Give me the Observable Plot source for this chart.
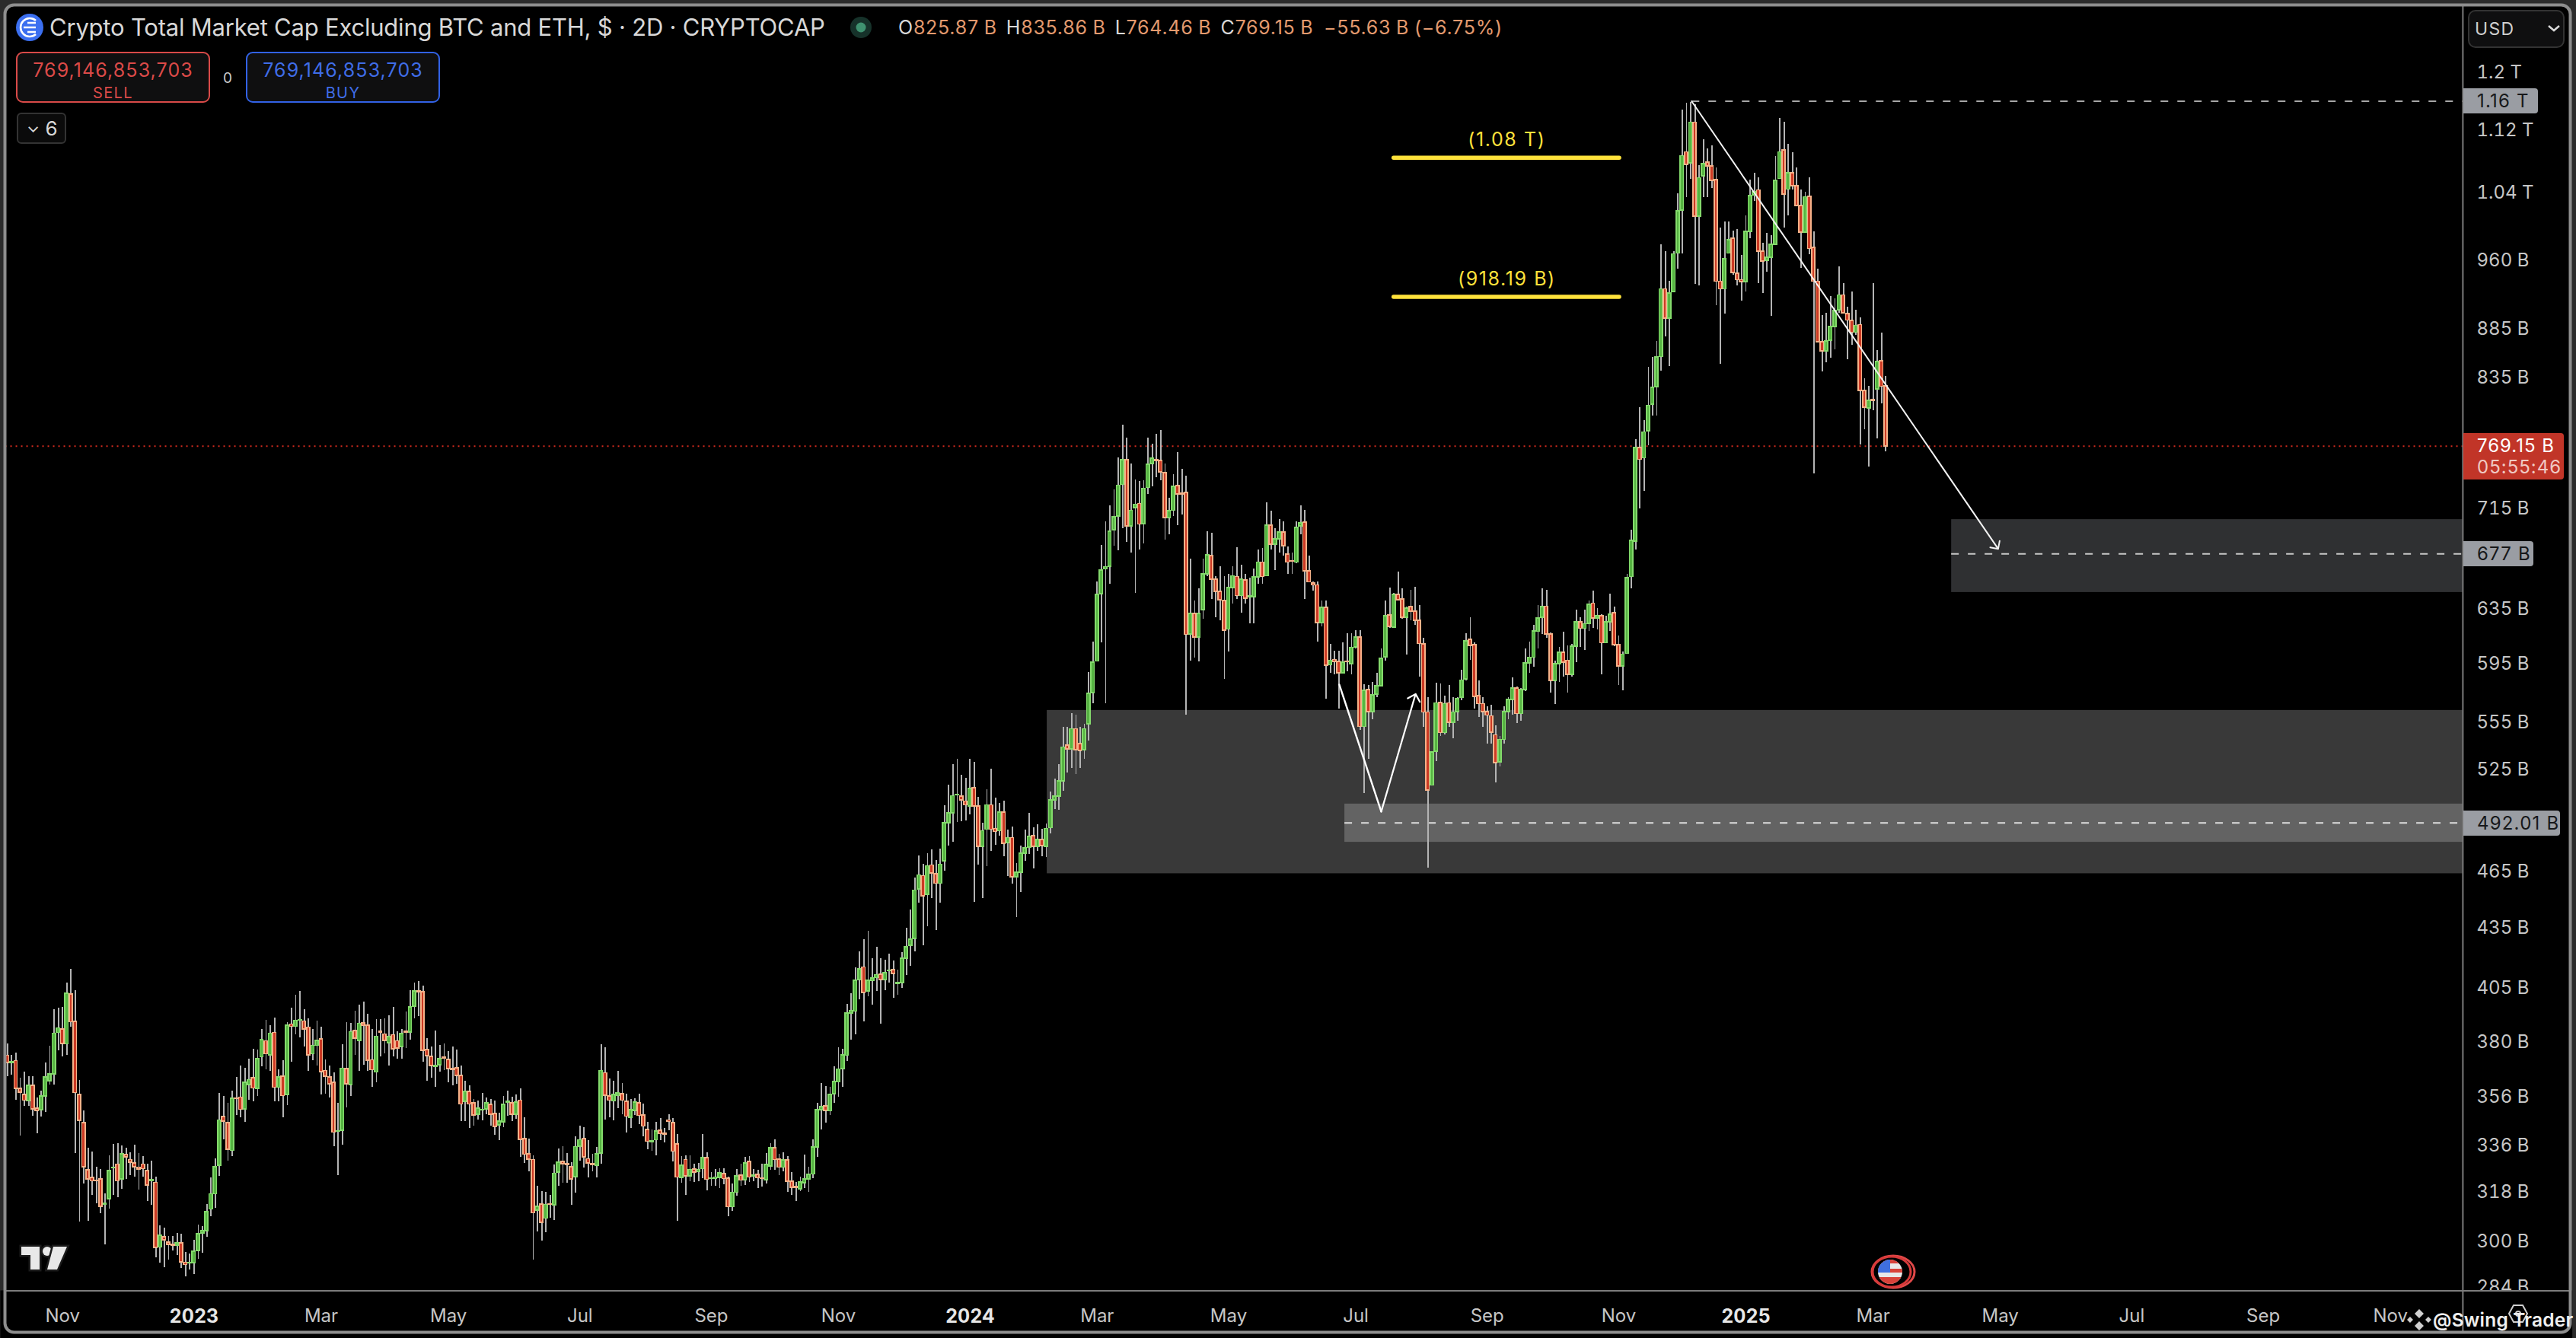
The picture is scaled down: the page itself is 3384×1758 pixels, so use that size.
<!DOCTYPE html>
<html><head><meta charset="utf-8">
<style>
html,body{margin:0;padding:0;background:#2b2b2b;width:3384px;height:1758px;overflow:hidden}
#wrap{position:absolute;left:0;top:0;width:3384px;height:1758px;font-family:Inter,"Liberation Sans",sans-serif}
.o{position:absolute;white-space:nowrap;line-height:1}
.box{position:absolute;box-sizing:border-box;border-radius:9px;background:#0f0f10;text-align:center}
.tag{position:absolute;left:3236px;box-sizing:border-box;border-radius:0 4px 4px 0;background:#9a9da3;color:#17181a;font-size:24px;height:33px;line-height:33px;padding-left:18px;letter-spacing:1.2px}
</style>
<script src="https://cdn.jsdelivr.net/npm/d3@7"></script>
<script src="https://cdn.jsdelivr.net/npm/@observablehq/plot@0.6"></script>
</head><body><div id="wrap"></div>
<script>
const opens=[373.4,370.2,371,358.9,356.3,353.8,360.2,350.6,350.1,355.7,
362.2,365.2,383.6,385.1,378.5,401.6,388.7,356.4,344.6,325.9,
323,321.9,322.4,312.8,314.9,326.7,328.2,322.5,331.9,329.9,
328.6,327,328.2,325.6,321.9,321.1,297.4,301.1,299.2,298.4,
298.1,298.9,292.1,292,292,296.2,302.4,303.2,311.1,316.8,
327.8,347.2,344.7,333.5,355,355.3,350.4,360.7,363.5,358.9,
372.7,379.8,373.6,383.6,359.5,364.2,356.5,387.4,386.4,389.2,
388.8,386,374,377.8,380.6,366.7,363.8,361.5,341.1,341.7,
367.5,360.6,384.6,380,388,386.8,371.4,366,384.1,382.9,
378.9,382.6,379.8,377.3,384.1,383.8,395.7,402.9,402.5,375.8,
372.9,368.6,369.2,372.6,371.5,367.5,367.8,364.5,353.6,357.8,
352.9,348.1,350,350.3,352.3,348.5,343.8,345.1,353.3,352.9,
348.1,354,338.3,332.2,329.9,310.7,313,307.8,313,312.6,
325,329.2,328.4,327.2,323.3,335.2,338.3,330.2,328.4,327.7,
332.4,365.7,355.7,353.7,356.1,356.8,353.5,346.9,349.7,352.8,
347.8,341.9,336.9,337.8,341.6,340.4,345.8,344.8,336.1,323,
329.9,323.5,326.2,325.2,326.4,330.7,322.6,322.6,323,324.5,
322.8,312,317.4,323.8,322.1,329.3,323.7,324.2,322.9,322.1,
327.4,334.6,330.1,327,329.8,321.5,319.5,318.6,321,322.4,
324.3,334.9,350.1,351.7,349.6,356.7,361.8,367.6,373.4,392.5,
393.4,408.5,414.6,403,408.2,409.4,411,408.5,412.9,413.3,
406.7,406.9,419,425.3,428.8,454.7,462,451.8,467.9,463,
457.9,470.2,491.8,497.6,508.4,507.8,504.8,501.8,512.9,501.7,
478.2,488.2,502.5,488.6,487.3,498.1,480.4,483.4,461.3,463.8,
474.4,477.8,484.3,478.2,482.1,478.2,489,505.3,507.8,517,
539.3,537,550,540.3,536.5,553,574,596,645.3,664.7,
667,696.4,707.6,734.7,756.8,699.6,715,718.3,701.4,732,
753,757,756,745.3,706.4,712.6,733.8,727,727.9,615.5,
630.7,613.3,633.3,661,675.4,656.5,647.1,640.2,618.9,650,
658.8,644,656,643,643,658.3,670.2,659.3,700,684.4,
689,694.6,676.6,671,670.2,699.3,702.5,663,653.6,652.3,
623.7,635,593.2,597,595.6,587.6,595.6,594,606,613.3,
551.4,576,561.3,573,578.8,598.8,629.2,620.5,644.8,641.4,
627.7,635.6,632.2,625.5,608.3,560.9,514.4,535.5,567.4,547.4,
567,554,561.3,571,583.4,611.6,607.6,571.8,566.6,561.3,
558.5,546,528.7,543,561.3,569.4,577,560,576,594.4,
598.6,617.2,627.7,636,615.5,582.3,594,602,596.4,586.5,
606.7,624.4,619.5,623.3,638.3,627,628.8,609,624.4,631,
607.6,592.4,601.4,658.8,687,767.8,758.4,783,808,825,
855,926.5,895,923.5,966.7,1017,1090,1076,1129,1010,
1059.7,1076.5,1072,1054.7,935,926.5,966.7,983.8,944,936.7,
934.5,992,1036,1042,969,958.6,962,977,1056,1092.6,
1043,1063.5,1047.3,1022.7,991,1034,973,935,870,860.7,
872,886,903.7,920,899.8,892.6,880,888,821.5,804.3,
813,823,851,825.87];
const closes=[370.1,370.4,358.9,357.3,354,360.2,350.4,349.8,355.7,363.8,
365.2,383.3,385.7,378.7,401.9,388.5,357.2,345.7,327.2,322.5,
321.7,321.7,312.1,313.3,325.7,327,321.7,332.2,331,329,
327.2,326.3,326.4,320.2,322.2,297.2,301.6,300,298.3,298.1,
298.9,292.2,291.3,292.1,296,302.2,303.3,310.2,316.8,327.2,
345.8,345.4,333.9,354.8,354.8,350.2,361.5,362.7,359.2,371.8,
380.4,374,383.3,359.5,363.8,355.9,387,386.4,389.2,389.5,
385.2,373.5,377.8,379.9,366.3,364.2,360.9,340.8,341.3,367.7,
360.9,384,381,387.8,386.9,371.2,367,381.9,383.7,380,
381.6,376.3,376.6,383,383.7,395.5,402.9,402.5,375.5,373.2,
368.8,368.8,371.9,372.2,367.6,367,364.5,352.4,357.8,352.4,
347.9,350.7,350.1,352.9,348.1,343.2,345.4,352.3,353.5,348.2,
353.3,338,332,330.1,309.7,312.2,306.3,312.8,312.8,324.6,
329,328.4,328,322.5,335,337.8,331,328.7,328,332.2,
366.7,356.1,354,356.4,357,354,347.4,350,353.2,347.7,
343.3,337.2,337.4,341.4,340.2,340,345.2,333.2,323.2,327.7,
323.6,326.1,325,326.1,330.6,322.3,322.8,323.2,324.8,322.6,
312,317.4,323.6,322,328.7,323.2,323.9,322.9,322.6,328,
334.6,329.9,327,329.8,321.5,319.2,319.2,321.2,322.4,324.1,
334.9,350,351.4,349.7,356.5,361.9,367.4,373.5,392.5,393.7,
408.2,413.6,402.2,408,409.1,410.9,408.5,411.8,413.1,411.3,
406.9,419,424.7,428.4,454.2,462.4,451.2,467.5,463.4,457.9,
468.3,491.8,497.6,507.9,508.5,505.3,502.5,512.4,501.7,478.2,
487.3,502.5,488.2,486.9,498.1,480,483.4,461.3,464,474.4,
477.4,483.9,478.2,482.1,478.7,488.6,505.3,507.8,516.8,538.2,
537,550,536.5,535.9,550,573.5,595,644.8,664,666.5,
695.1,707,734,756.8,699.6,712.6,717.8,701,731.4,752.6,
758,756,745.8,706.4,712,733.3,726.7,726.7,615,630.7,
613.3,630.7,661,676,656.5,647.1,640.7,618.2,650,659.3,
644,656.5,642,644,658.3,670.2,658.8,700,684.4,689,
694.6,683.4,670.2,670.8,698.3,702,663,654.5,652.3,623.7,
635,592.8,596.4,595.6,587.6,595,595.4,605.7,613.3,551.4,
575.5,561.3,572.5,578.6,598,628.8,621,644.8,640.7,627.7,
634.5,632.4,625.5,608.5,560.9,511.5,535,567,547.4,566.6,
554,560.9,570,582.7,610.2,607,571.4,566.6,561.3,559,
547.6,528.2,543,561.3,569.4,577,560,576,594.4,598.6,
617.7,627,635.6,615.5,582.3,594,602,595,586.5,606.7,
624.4,619.5,622.8,637.4,627,628.8,609,624.4,630,607.6,
592.4,600.8,658,687.6,767.8,757,782,807,824.6,854.4,
926.5,895,922,965.8,1016.7,1085,1074,1129,1010,1057,
1075,1072,1053.6,935,926.5,960,982,945,936.7,934.5,
992,1035,1040,969,957.7,962,977,1053.6,1090,1037,
1063,1047.3,1022.7,991,1033.5,972,935,870,860.7,871,
886,903,920,900.7,893,880,887.4,821.5,805.4,812,
812,850,825.4,769.15];
const highs=[378.8,373.4,374.6,363.5,366.3,364.3,364.3,355.1,358.1,370.3,
377.7,394.3,395.1,395.5,407,413.6,403.2,362.6,349.6,334.5,
333,327,326.2,316.9,331.5,336,336.5,335.6,334.5,332.7,
335.7,332.4,331.2,328.4,329.4,323.3,305.1,304.4,301.3,301.3,
302.4,302.1,295.7,295.1,300,305.3,305,313,323.1,330.4,
357.2,355.9,352.8,357.9,364,369,367.9,372,376.3,375.9,
385.2,389.5,386.9,390.4,367.3,371.2,388.3,394.9,401,402.8,
394.3,390,385.2,389,386.3,371.5,369,365.8,353,378.2,
388.4,388,393.6,396.5,398,392.2,385.2,389.8,389.8,390,
391.5,395.3,384.2,385.2,393.1,403.3,406.9,407.8,405.5,381.2,
377.3,384.6,377.8,378.8,375.1,377.3,375.8,369,362.1,360.3,
354.6,354,356.9,355.1,354.6,354,348.7,355.9,357.9,355.3,
356.4,358.9,346.9,338.1,331.5,319.9,317.8,317.5,316.3,328,
334.2,335.1,332.4,329,339,343.5,342.7,337.7,332.1,334.8,
378.4,377,363.2,362.3,366.4,361.3,356.8,354.5,354.8,356.6,
352.6,344.9,342,345.1,346.7,342.4,348.2,346.7,340,331.3,
331.6,331.6,328.4,328.7,340.2,332.9,325.1,326.3,326.6,326.6,
323.4,320.8,326.3,328.4,331,331.3,326.3,326,328.4,332.5,
336.5,338,332.2,332.9,331.3,325.2,321.3,323.4,331.9,327.2,
338,353,361.2,360.1,359.5,368.6,377,376.2,397,402,
414.5,422.4,428.6,432.6,418.9,424.8,418.9,418.3,421,417.9,
413.1,421.9,434.5,443.8,460.8,473.2,468.6,474.5,476.7,470.7,
477.1,502.2,514.6,527.3,530.8,520.7,518.8,530.8,528.7,507.2,
491.9,511.8,524.5,506.8,503.7,505,488,489.8,469,478.8,
488,497.6,489.3,491,488.4,491.5,510.4,518.4,527.3,551,
551,560,559,551,553,588,610,655,684,703,
717,730.7,758.6,788.6,777,753,739,738,738.7,776.6,
771,780,783.6,753,723,744,763.6,748.5,742.7,673,
640.2,649.4,673,695,694,658.8,667,658.8,661,667,
682,668,661,657.6,664.7,680,681.5,719.6,712,697.6,
705,703,682.7,678,703,717,712.7,675,655,655,
640.2,640.2,607.9,603.5,603.5,609,616,616,618,618,
580,579.3,581.3,587.6,604.6,640.2,650,646,662.4,649.4,
635.6,648.3,651,636.7,612.5,571,535.5,581,580.3,572,
579.3,571,571,589.7,616,627.4,609,582.4,571,565,
565.6,552,545,565,571,584.5,578,577,604.6,610,
622,636.7,649.4,648.3,616.6,596,605.7,617,607,608,
633.3,627.7,633.3,640.2,647.6,634.5,630,628.8,645.3,635.6,
614.4,602.5,661,696.3,775,805,793,845,855,871,
977,968.8,935,968.8,1037.4,1145.6,1155,1156.4,1153.8,1072.6,
1106.6,1094,1098.6,1070,996,1003.7,1003.7,993,994.3,964.4,
1010.9,1055,1063,1057.3,979,990.5,987.4,1085,1135,1130,
1100.6,1090,1070,1042.3,1040,1058,992,949,898.5,900.7,
919,916,951.7,933,907,923.6,903.7,896,833.2,825.7,
932.6,861.5,879.4,835.86];
const lows=[364.1,364.8,354.2,339.5,351.7,351.5,347.4,340.5,347.1,349.1,
360.7,360.7,375.5,372.7,373.4,386.2,332.5,306.6,320.7,306.7,
316.3,313.3,309.6,298.4,311.4,316.3,315.5,318.7,322.5,323.8,
323.3,318.4,323.3,314.1,312.8,293.7,292,290.3,293.1,296.2,
294.6,290.2,287.2,289.6,288,293.3,295.5,301.1,308.6,311.6,
323.5,337.8,329.5,331.4,347.7,346.9,344.9,354.2,353.5,355.7,
368.4,367.1,366.4,353.5,353.6,346.8,351.9,370.4,382.7,381.4,
377.1,366.4,371.3,369,356.3,356.7,355.1,335.2,323.8,335.7,
351.1,355.9,373.7,366.4,369.3,366.4,359.7,361.5,372.7,374.3,
369,372.7,371.8,372,376.5,380.4,390.2,391.2,370.4,362.2,
363.5,359.7,366.2,366.7,361.5,360.2,360.8,345.2,345.2,342.6,
343.4,345.9,345.6,348.3,343.4,339.7,337.6,342.8,347.6,345.2,
346.4,331,328.5,325.5,293,303,299.7,302.7,308,307.1,
319.8,320.9,320.9,312.7,317.3,329.4,326.7,323,325.3,323,
328.2,346.1,347,345.7,350.8,348.1,340.8,342.6,347.9,344.2,
339.3,334,333.4,331.7,337.7,336.8,341.7,329.3,306.9,321,
316.4,321.6,321.3,321.6,322.8,318.2,319.9,319.9,318.9,320.5,
308.6,310.5,316.2,319.9,320.2,321.3,321.6,319,319.5,320.7,
325.8,325.8,324,325.5,317.6,316.4,314.2,317.9,319.1,317.6,
322.8,331,342,344.7,347.9,352.9,355.3,359.8,370.7,380.3,
382.6,398.8,388.8,400.6,396.3,402.9,387.6,403.5,406.8,399.8,
401.2,404.3,410.5,415.2,422.5,447.3,425.5,434.9,450,433.3,
447.6,464.8,478.9,481.1,492.4,492.9,493.3,496.9,447.9,468.2,
449.8,467.3,475.7,479.1,484.5,472.8,461.9,457.6,440,453.3,
470.3,474.1,466,475.8,472.8,472.4,485.8,500,499.6,511,
522.2,525,521.2,525,530.7,542.2,566.6,595.6,609,567,
653,683.5,679.5,697.6,686.5,677.8,646,680,685,726.7,
733.3,741,738.7,688.4,692.6,708,700,709,559,596,
598.2,595.4,626.6,658.8,641.7,627.7,625.5,583.4,602.5,638,
641.7,631,638,623.3,623.3,653,653,658.8,680,664,
677.8,675.4,661,661,669.5,692.6,641.7,654,648,610,
621,570,587.6,586.5,563.4,588.7,588.7,586.5,604.6,549,
509.7,530.7,556,571,578.4,596,620,620,640.2,626.6,
600.4,625.5,622,585.2,551,466.5,514,529.4,545,546.2,
551,544,555,569,582.4,597,563,557.9,551,540.3,
540.3,516.2,526,540.3,556,559,553.5,555,575,587.6,
591.8,604.6,615.5,612.3,574,566.3,581.3,585.2,574,585.2,
595,605.7,603.6,617.7,620,618.9,586.5,609,617.7,606.5,
579.2,575.6,601.4,649.5,680.4,714,729,770,797,797,
841,876,845.7,924,948.7,966.7,1032.6,1055.7,932,930.6,
1032.6,1032.6,1044,909,848,900,966.7,941.9,930,913.6,
924,984,1028,933,922,946,897.6,976,1055.7,996.8,
1010.9,1042.3,1022.7,949.6,992,965.8,744.1,870,840.4,849,
854,862.4,900.7,900.7,852,866.8,877.6,770.7,784.5,750.5,
802.5,776.3,809.2,764.46];

const monthIdx=[13,74,104,135,166,196,257,288,318,349,380,440,470,501,532,562];
const monthLabels=["Nov","Mar","May","Jul","Sep","Nov","Mar","May","Jul","Sep","Nov","Mar","May","Jul","Sep","Nov"];
const yearIdx=[44,227,410];
const yearLabels=["2023","2024","2025"];
const priceTicks=[1200,1120,1040,960,885,835,715,635,595,555,525,465,435,405,380,356,336,318,300,284];
const axisEdge=579.1, floorPrice=282.5;

const lowerZone=[{i1:245.2,i2:axisEdge,top:562.3,bottom:463.3}];
const innerZone=[{i1:315.4,i2:axisEdge,top:503.2,bottom:480.9}];
const targetZone=[{i1:458.5,i2:axisEdge,top:705.1,bottom:646.7}];
const fibLines=[{i1:327,i2:380.2,v:1083,label:"(1.08 T)"},{i1:327,i2:380.2,v:918.19,label:"(918.19 B)"}];
const dashLines=[{i1:397.3,v:1158,stroke:"#a6a6a6"},{i1:458.5,v:677,stroke:"#c8c8c8"},{i1:315.4,v:492.01,stroke:"#dedede"}];
const lastPrice=769.15;
const fallArrow=[{i1:397.2,v1:1158,i2:469.5,v2:681}];
const dipPath=[{i:314.1,v:579.8},{i:324,v:498.7}];
const reboundArrow=[{i1:324,v1:498.7,i2:332.1,v2:573.3}];

const candles=opens.map((o,i)=>({i,o,c:closes[i],h:highs[i],l:lows[i],up:closes[i]>=o}));
const hw=0.38;
const fmt=v=>v>=1000?(v/1000)+" T":v+" B";
const bodyOpts=(fill,stroke)=>({x1:d=>d.i-hw,x2:d=>d.i+hw,y1:"o",y2:"c",fill,stroke,strokeWidth:1.7,shapeRendering:"crispEdges"});

const chart=Plot.plot({
  width:3384,height:1758,marginLeft:6,marginTop:6,marginRight:8,marginBottom:8,
  style:{background:"transparent",fontFamily:"Inter,'Liberation Sans',sans-serif"},
  x:{type:"linear",domain:[-1.675,605.87],range:[0,3384]},
  y:{type:"log",domain:[1305.1,267.0],range:[0,1758]},
  marks:[
    Plot.frame({fill:"#000",rx:12}),
    Plot.rect(lowerZone,{x1:"i1",x2:"i2",y1:"top",y2:"bottom",fill:"#393939"}),
    Plot.rect(innerZone,{x1:"i1",x2:"i2",y1:"top",y2:"bottom",fill:"#636363"}),
    Plot.rect(targetZone,{x1:"i1",x2:"i2",y1:"top",y2:"bottom",fill:"#2f3032"}),
    Plot.ruleY([lastPrice],{x1:-0.5,x2:axisEdge,stroke:"#d02a1e",strokeWidth:2,strokeDasharray:"2 5"}),
    Plot.ruleY(dashLines,{x1:"i1",x2:axisEdge,y:"v",stroke:"stroke",strokeWidth:2,strokeDasharray:"10 12"}),
    Plot.ruleX(candles,{x:"i",y1:"l",y2:"h",stroke:"#b4b4b4",strokeWidth:1.8,shapeRendering:"crispEdges"}),
    Plot.rect(candles.filter(d=>d.up),bodyOpts("#56b442","#84da6c")),
    Plot.rect(candles.filter(d=>!d.up),bodyOpts("#cc3a24","#f6b289")),
    Plot.line(dipPath,{x:"i",y:"v",stroke:"#fff",strokeWidth:2.4}),
    Plot.arrow(reboundArrow,{x1:"i1",y1:"v1",x2:"i2",y2:"v2",stroke:"#fff",strokeWidth:2.2,headAngle:90,headLength:8}),
    Plot.arrow(fallArrow,{x1:"i1",y1:"v1",x2:"i2",y2:"v2",stroke:"#f2f2f2",strokeWidth:2,headAngle:90,headLength:8}),
    Plot.ruleY(fibLines,{x1:"i1",x2:"i2",y:"v",stroke:"#ffe23b",strokeWidth:5.5,strokeLinecap:"round"}),
    Plot.text(fibLines,{x:d=>(d.i1+d.i2)/2,y:"v",text:"label",dy:-23,fill:"#ffe23b",fontSize:25,className:"fib"}),
    Plot.axisY(priceTicks,{anchor:"right",tickSize:0,tickPadding:0,dx:-123,dy:1.5,tickFormat:fmt,fontSize:24,fill:"#c6c6c6",label:null}),
    Plot.rect([{i1:-1.6,i2:605,top:floorPrice,bottom:267}],{x1:"i1",x2:"i2",y1:"top",y2:"bottom",fill:"#000"}),
    Plot.ruleY([floorPrice],{stroke:"#7c7c7c",strokeWidth:2}),
    Plot.ruleX([axisEdge],{stroke:"#7c7c7c",strokeWidth:2}),
    Plot.frame({stroke:"#8e8e8e",strokeWidth:4,rx:12}),
    Plot.axisX(monthIdx,{anchor:"bottom",tickSize:0,tickPadding:0,lineAnchor:"middle",dy:-21,fontSize:24,fill:"#c6c6c6",label:null,tickFormat:d=>monthLabels[monthIdx.indexOf(d)]}),
    Plot.axisX(yearIdx,{anchor:"bottom",tickSize:0,tickPadding:0,lineAnchor:"middle",dy:-21,fontSize:25,fontWeight:700,fill:"#e6e6e6",label:null,tickFormat:d=>yearLabels[yearIdx.indexOf(d)]})
  ]
});
d3.select(chart).selectAll(".fib text, text.fib").style("letter-spacing","1.6px");
const wrap=document.getElementById("wrap");
wrap.appendChild(chart);
const Y=v=>chart.scale("y").apply(v);
function add(html){wrap.insertAdjacentHTML("beforeend",html)}
// header
add(`<svg class="o" style="left:0;top:0" width="3384" height="1758" viewBox="0 0 3384 1758">
<circle cx="39" cy="36" r="18" fill="#3b6ff0"/>
<path d="M47 27a12 12 0 1 0 0 18M31 36h16M36 30h11M36 42h11" fill="none" stroke="#fff" stroke-width="2.6"/>
<circle cx="1131" cy="36" r="14" fill="#16322a"/><circle cx="1131" cy="36" r="6.5" fill="#3f9270"/>
<g fill="#e8e8e8" stroke="#1a1a1a" stroke-width="5" paint-order="stroke"><path d="M28 1638h24v30h-12v-19h-12z"/><circle cx="62" cy="1644" r="6"/><path d="M70 1638h18l-13 30h-13z"/></g>
<g fill="none"><ellipse cx="2487" cy="1671" rx="28" ry="21" stroke="#e04848" stroke-width="3"/><ellipse cx="2485" cy="1671" rx="25" ry="20" stroke="#d83a3a" stroke-width="3"/></g>
<clipPath id="fl"><ellipse cx="2483" cy="1671" rx="16" ry="16"/></clipPath>
<g clip-path="url(#fl)"><rect x="2465" y="1654" width="36" height="34" fill="#e8e8e8"/><rect x="2465" y="1654" width="36" height="6" fill="#d9423a"/><rect x="2465" y="1667" width="36" height="5" fill="#d9423a"/><rect x="2465" y="1678" width="36" height="10" fill="#d9423a"/><rect x="2465" y="1654" width="18" height="18" fill="#3f6fe0"/></g>
<g fill="none" stroke="#cfcfcf" stroke-width="2"><path d="M3296 1726l6-11h12l6 11-6 11h-12z"/><circle cx="3308" cy="1726" r="3"/></g>
<path d="M3178 1720l6 6-6 6-6-6zM3166 1730l4 4-4 4-4-4zM3190 1730l4 4-4 4-4-4zM3178 1736l6 6-6 6-6-6z" fill="#cfcfcf"/>
</svg>`);
add(`<div class="o" style="left:65px;top:20px;font-size:31px;color:#d8d8d8;letter-spacing:-0.21px">Crypto Total Market Cap Excluding BTC and ETH, $ · 2D · CRYPTOCAP</div>`);
add(`<div class="o" style="left:1180px;top:24px;font-size:25px;color:#e39a6e;letter-spacing:.75px;word-spacing:-1px"><span style="color:#d8d8d8">O</span>825.87 B <span style="color:#d8d8d8">&thinsp;H</span>835.86 B <span style="color:#d8d8d8">&thinsp;L</span>764.46 B <span style="color:#d8d8d8">&thinsp;C</span>769.15 B &nbsp;−55.63 B (−6.75%)</div>`);
add(`<div class="box" style="left:21px;top:68px;width:255px;height:67px;border:2px solid #d94a48"><div style="color:#dc4a48;font-size:25px;margin-top:7px;letter-spacing:1.1px">769,146,853,703</div><div style="color:#dc4a48;font-size:20px;margin-top:3px;letter-spacing:1.4px">SELL</div></div>`);
add(`<div class="o" style="left:293px;top:93px;font-size:19px;color:#c9c9c9">0</div>`);
add(`<div class="box" style="left:323px;top:68px;width:255px;height:67px;border:2px solid #3262e6"><div style="color:#3f6de8;font-size:25px;margin-top:7px;letter-spacing:1.1px">769,146,853,703</div><div style="color:#3f6de8;font-size:20px;margin-top:3px;letter-spacing:1.4px">BUY</div></div>`);
add(`<div class="box" style="left:22px;top:148px;width:65px;height:41px;border:2px solid #333;border-radius:6px;color:#d8d8d8;font-size:26px;line-height:37px;text-align:left;padding-left:11px;background:#0b0b0b"><span style="font-size:22px;position:relative;top:-4px">⌄</span> 6</div>`);
add(`<div class="box" style="left:3242px;top:13px;width:127px;height:50px;border:2px solid #333;border-radius:10px;color:#cfcfcf;font-size:23px;line-height:46px;text-align:left;padding-left:7px;letter-spacing:1.3px">USD</div>`);
add(`<svg class="o" style="left:3345px;top:30px" width="20" height="16"><path d="M3 4l7 6 7-6" fill="none" stroke="#d8d8d8" stroke-width="2.5"/></svg>`);
// price tags
add(`<div class="tag" style="top:${Y(1158)-16}px;width:98px">1.16 T</div>`);
add(`<div class="tag" style="top:${Y(677)-16}px;width:92px">677 B</div>`);
add(`<div class="tag" style="top:${Y(492.01)-16}px;width:127px;">492.01 B</div>`);
add(`<div class="o" style="left:3236px;top:${Y(lastPrice)-17}px;width:132px;height:61px;background:#c13528;border-radius:0 4px 4px 0;color:#fff;font-size:24px;line-height:28px;padding:3px 0 0 18px;box-sizing:border-box;letter-spacing:1px">769.15 B<br><span style="color:#f0c9c3">05:55:46</span></div>`);
// watermark
add(`<div class="o" style="left:3196px;top:1722px;font-size:24.5px;font-weight:600;color:#efefef;letter-spacing:.2px">@Swing Trader</div>`);
</script></body></html>
